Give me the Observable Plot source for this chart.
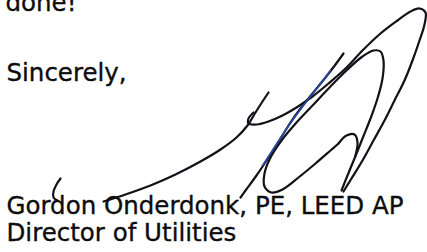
<!DOCTYPE html>
<html>
<head>
<meta charset="utf-8">
<script src="https://cdn.jsdelivr.net/npm/d3@7"></script>
<script src="https://cdn.jsdelivr.net/npm/@observablehq/plot@0.6"></script>
<style>
  html, body { margin: 0; padding: 0; background: #fff; }
  #chart svg { display: block; }
</style>
</head>
<body>
<div id="chart"></div>
<script>
// Letter text lines and their baseline rows
const textLines = ["done!", "Sincerely,", "Gordon Onderdonk, PE, LEED AP", "Director of Utilities"];
const textBaselines = [10, 80, 213, 240];
const textLeft = [5, 6, 6, 6];

// Signature strokes (x, y)
const strokeLong = [[103,201],[125,194],[150,185],[175,174],[200,161],[220,149],[236,137],[247,125],[255,112],[262,101],[268,92]];
const strokeHookOuter = [[253,112],[248,118],[248,123],[256,124],[268,121],[282,115],[296,107],[312,96],[328,83],[345,68],[362,50],[380,33],[397,20],[410,11],[419,8],[425,12],[424,24],[419,40],[412,60],[404,80],[394,100],[384,120],[373,140],[362,160],[351,178],[343,191]];
const strokeInner = [[338,143],[330,150],[315,163],[298,177],[282,189],[271,192],[264,186],[264,173],[270,157],[281,140],[296,122],[313,104],[330,86],[347,69],[362,56],[373,50],[380,51],[383,60],[382,78],[377,98],[370,118],[362,138],[354,158],[347,175],[341,190]];
const strokeLoopTop = [[338,143],[346,135],[354,134],[357,142],[355,155]];
const strokeDown = [[343,53],[335,64],[325,77],[312,93],[300,108],[290,122],[280,138],[268,157],[256,175],[245,190],[240,197]];
const strokeBlue = [[330,70],[318,86],[306,101],[294,117],[283,133],[272,150],[262,165]];
const strokeTick = [[60,178],[56,184],[53,191],[53,197],[57,200]];

const darkStrokes = [strokeLong, strokeHookOuter, strokeInner, strokeLoopTop, strokeDown, strokeTick];
const sigRows = darkStrokes.flatMap((pts, i) => pts.map(([x, y]) => ({x, y, s: i})));
const blueRows = strokeBlue.map(([x, y]) => ({x, y}));
const textRows = textLines.map((t, i) => ({t, x: textLeft[i], y: textBaselines[i]}));

const W = 427, H = 252;
const chart = Plot.plot({
  width: W,
  height: H,
  margin: 0,
  style: {background: "#fff"},
  x: {domain: [0, W], axis: null},
  y: {domain: [0, H], reverse: true, axis: null},
  marks: [
    Plot.line(sigRows, {x: "x", y: "y", z: "s", curve: "catmull-rom", stroke: "#111118", strokeWidth: 2.2, strokeLinecap: "round"}),
    Plot.line(blueRows, {x: "x", y: "y", curve: "catmull-rom", stroke: "#2b4fb0", strokeWidth: 1.8, strokeOpacity: 0.9}),
    Plot.text(textRows, {x: "x", y: "y", text: "t", textAnchor: "start", lineAnchor: "bottom", fontSize: 24.5, fill: "#0d0d0d", stroke: "#0d0d0d", strokeWidth: 0.35, fontFamily: "DejaVu Sans"})
  ]
});
document.getElementById("chart").appendChild(chart);
</script>
</body>
</html>
